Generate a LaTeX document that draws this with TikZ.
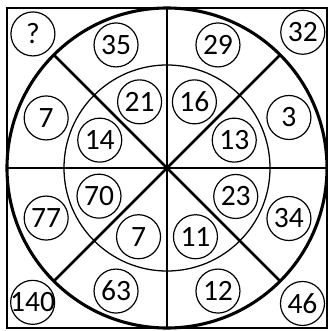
\documentclass[tikz,border=0pt]{standalone}
\usepackage{fontspec}
\setmainfont{Carlito}
\begin{document}
\begin{tikzpicture}[every node/.style={font=\fontsize{21}{22}\selectfont},
        num/.style={draw, circle, line width=0.85pt, minimum size=1.1cm, inner sep=0pt}]
        \useasboundingbox (-4.175,-4.075) rectangle (4.025,4.2);
        \draw[line width=1.9pt] (-4,-4) rectangle (4,4);
        \draw[line width=2.2pt] (0,0) circle (4cm);
        \draw[line width=0.9pt] (0,0) circle (2.575cm);
        \draw[line width=2pt] (0,-4) -- (0,4);
        \draw[line width=2pt] (-4,0) -- (4,0);
        \foreach \angle in {45, 135} {
            \draw[line width=2pt] (\angle:4cm) -- (\angle+180:4cm);
        }
        % outer ring
        \node[num] (out1) at (22.5:3.3cm)  {3};
        \node[num] (out2) at (67.5:3.33cm)  {29};
        \node[num] (out3) at (112.5:3.33cm) {35};
        \node[num] (out4) at (157.5:3.27cm) {7};
        \node[num] (out5) at (202.5:3.27cm) {77};
        \node[num] (out6) at (247.5:3.33cm) {63};
        \node[num] (out7) at (292.5:3.33cm) {12};
        \node[num] (out8) at (337.5:3.3cm) {34};
        % inner ring
        \node[num] (in1) at (22.5:1.82cm)  {13};
        \node[num] (in2) at (67.5:1.79cm)  {16};
        \node[num] (in3) at (112.5:1.79cm) {21};
        \node[num] (in4) at (157.5:1.82cm) {14};
        \node[num] (in5) at (202.5:1.84cm) {70};
        \node[num] (in6) at (247.5:1.86cm) {7};
        \node[num] (in7) at (292.5:1.86cm) {11};
        \node[num] (in8) at (337.5:1.86cm) {23};
        % corners
        \node[num] (cor1) at (45:4.8cm)  {32};
        \node[num] (cor2) at (135:4.74cm) {?};
        \node[num, inner sep=-4pt] (cor3) at (225:4.75cm) {140};
        \node[num] (cor4) at (315:4.79cm) {46};
\end{tikzpicture}
\end{document}
